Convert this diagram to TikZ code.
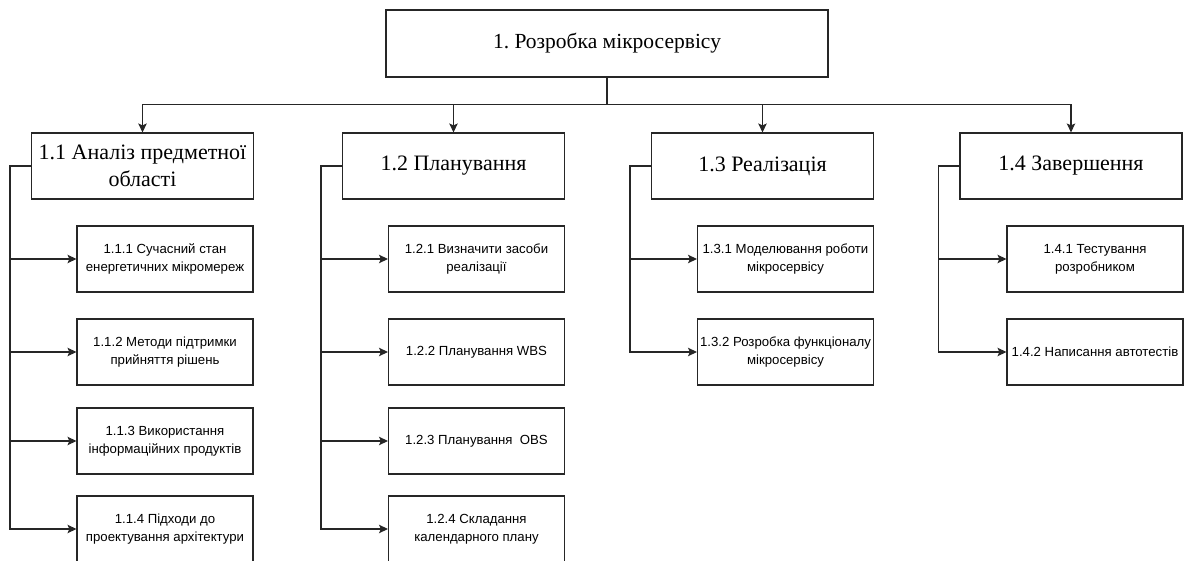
\documentclass[tikz,border=0pt]{standalone}
\usepackage{fontspec}
\setmainfont{Liberation Serif}
\setsansfont{Liberation Sans}
\usetikzlibrary{arrows.meta}
\frenchspacing
\begin{document}
\begin{tikzpicture}[x=1pt,y=-1pt,
  box/.style={draw=black!85, line width=1.1pt, fill=white, inner sep=0pt, align=center},
  rootbox/.style={box, minimum width=442pt, minimum height=67pt, font=\fontsize{21.5}{26}\selectfont},
  phasebox/.style={box, minimum width=222pt, minimum height=66pt, font=\fontsize{22}{27}\selectfont},
  taskbox/.style={box, minimum width=176pt, minimum height=66pt, font=\sffamily\fontsize{13.2}{18}\selectfont},
  link/.style={draw=black!85, line width=1.1pt},
  arr/.style={link, -{Stealth[length=9pt,width=8.5pt,inset=2pt]}}]
\useasboundingbox (0,0) rectangle (1184,561);

% root and phases
\node[rootbox] (root) at (607,43.5) {1. Розробка мікросервісу};
\node[phasebox] (p1) at (142.5,166) {1.1 Аналіз предметної\\області};
\node[phasebox] (p2) at (453.5,166) {1.2 Планування};
\node[phasebox] (p3) at (762.5,166) {1.3 Реалізація};
\node[phasebox] (p4) at (1071,166) {1.4 Завершення};

% tasks of phase 1.1
\node[taskbox] (t11) at (165,259) {1.1.1 Сучасний стан\\енергетичних мікромереж};
\node[taskbox] (t12) at (165,352) {1.1.2 Методи підтримки\\прийняття рішень};
\node[taskbox] (t13) at (165,441) {1.1.3 Використання\\інформаційних продуктів};
\node[taskbox] (t14) at (165,529) {1.1.4 Підходи до\\проектування архітектури};

% tasks of phase 1.2
\node[taskbox] (t21) at (476.5,259) {1.2.1 Визначити засоби\\реалізації};
\node[taskbox] (t22) at (476.5,352) {1.2.2 Планування WBS};
\node[taskbox] (t23) at (476.5,441) {1.2.3 Планування~~OBS};
\node[taskbox] (t24) at (476.5,529) {1.2.4 Складання\\календарного плану};

% tasks of phase 1.3
\node[taskbox] (t31) at (785.5,259) {1.3.1 Моделювання роботи\\мікросервісу};
\node[taskbox] (t32) at (785.5,352) {1.3.2 Розробка функціоналу\\мікросервісу};

% tasks of phase 1.4
\node[taskbox] (t41) at (1095,259) {1.4.1 Тестування\\розробником};
\node[taskbox] (t42) at (1095,352) {1.4.2 Написання автотестів};

% root to phases
\draw[link] (root.south) -- ++(0,27) coordinate (bus);
\foreach \p in {p1,p2,p3,p4}
  \draw[arr] (bus) -| (\p.north);

% phases to tasks
\foreach \t in {t11,t12,t13,t14}
  \draw[arr] (p1.west) -- ++(-21,0) |- (\t.west);
\foreach \t in {t21,t22,t23,t24}
  \draw[arr] (p2.west) -- ++(-21,0) |- (\t.west);
\foreach \t in {t31,t32}
  \draw[arr] (p3.west) -- ++(-21,0) |- (\t.west);
\foreach \t in {t41,t42}
  \draw[arr] (p4.west) -- ++(-21,0) |- (\t.west);
\end{tikzpicture}
\end{document}
